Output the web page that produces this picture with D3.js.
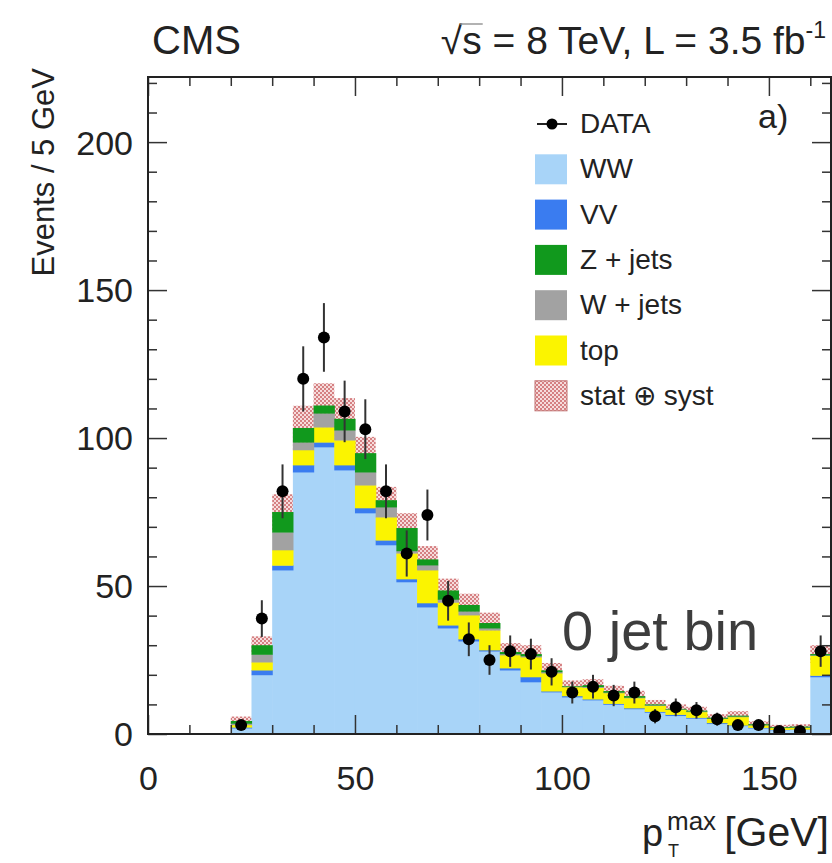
<!DOCTYPE html>
<html>
<head>
<meta charset="utf-8">
<script src="https://cdn.jsdelivr.net/npm/d3@7"></script>
<style>
  body { margin: 0; background: #fff; }
  svg { display: block; }
  text { font-family: "Liberation Sans", Arial, Helvetica, sans-serif; fill: #222; }
</style>
</head>
<body>
<svg id="chart" width="832" height="863"></svg>
<script>
// Lower edge of each 5 GeV bin (last one holds the overflow)
const binStart = [20, 25, 30, 35, 40, 45, 50, 55, 60, 65, 70, 75, 80, 85, 90, 95, 100, 105, 110, 115, 120, 125, 130, 135, 140, 145, 150, 155, 160];
const binWidth = 5;

// Expected events per bin for each background process
const wwVals    = [2.0, 20, 55.4, 88.5, 97, 89.2, 74.7, 63.9, 51.4, 42.9, 35.8, 31.4, 28, 21.6, 17.6, 14.2, 12.5, 11.5, 10, 8.5, 7.3, 6.2, 5.3, 3.5, 2.8, 2.0, 1.4, 1.5, 19.3];
const vvVals    = [0.3, 1.6, 1.6, 2.4, 1.6, 1.7, 1.7, 1.6, 1.0, 1.4, 1.0, 0.7, 0.4, 0.7, 1.7, 0.3, 0.4, 0.3, 0.3, 0.3, 0.3, 0.4, 0.3, 0.3, 0.2, 0.2, 0.1, 0.1, 0.5];
const topVals   = [0.8, 2.7, 5.2, 5.1, 5.1, 8.4, 7.7, 7.8, 8.7, 11.1, 7.7, 8.1, 6.7, 4.4, 6.7, 6.1, 3.0, 3.9, 3.6, 3.4, 2.0, 1.7, 1.9, 1.4, 2.8, 0.8, 0.6, 0.6, 6.7];
const wjetsVals = [0.5, 2.6, 6.0, 2.6, 4.7, 3.4, 4.4, 3.4, 0.8, 1.7, 1.0, 1.3, 0.7, 0.4, 0.4, 0.4, 0.1, 0.3, 0.2, 0.2, 0.2, 0.1, 0.2, 0.1, 0.2, 0.1, 0.1, 0.1, 0.2];
const zjetsVals = [0.8, 3.1, 6.8, 4.8, 2.6, 3.8, 6.4, 2.3, 7.7, 1.9, 3.0, 2.1, 1.7, 0.6, 0.6, 0.5, 0.1, 0.5, 0.4, 0.4, 0.2, 0.1, 0.2, 0.2, 0.2, 0.2, 0.1, 0.2, 0.3];
// Combined statistical and systematic uncertainty on the total expectation
const mcErr     = [1.5, 3, 6, 7.5, 7.5, 7, 5.5, 4.5, 5, 4.5, 4, 3.8, 3.5, 3, 3, 2.5, 2, 2, 1.8, 1.8, 1.5, 1.5, 1.3, 1.2, 1.5, 1, 0.8, 0.8, 3];

// Observed events and their uncertainties
const dataVals  = [3, 39, 82, 120, 134, 109, 103, 82, 61, 74, 45, 32, 25, 28, 27, 21, 14, 16, 13, 14, 6, 9, 8, 5, 3, 3, 1, 1, 28];
const dataErr   = [1.7, 6.2, 9.1, 11, 11.6, 10.4, 10.1, 9.1, 7.8, 8.6, 6.7, 5.7, 5, 5.3, 5.2, 4.6, 3.7, 4, 3.6, 3.7, 2.4, 3, 2.8, 2.2, 1.7, 1.7, 1, 1, 5.3];

// Axis tick values
const xMajorTicks = [0, 50, 100, 150];
const xMinorTicks = [10, 20, 30, 40, 60, 70, 80, 90, 110, 120, 130, 140, 160];
const yMajorTicks = [0, 50, 100, 150, 200];
const yMinorTicks = [10, 20, 30, 40, 60, 70, 80, 90, 110, 120, 130, 140, 160, 170, 180, 190, 210, 220];

// Process names, stacking order (bottom to top) and colours
const processKeys   = ["WW", "VV", "top", "Wjets", "Zjets"];
const processColors = { WW: "#a8d4f8", VV: "#3a7cf0", top: "#fbf400", Wjets: "#a2a2a2", Zjets: "#11991d" };
const legendLabels  = ["DATA", "WW", "VV", "Z + jets", "W + jets", "top", "stat \u2295 syst"];
const legendKinds   = ["data", "WW", "VV", "Zjets", "Wjets", "top", "band"];

const svg = d3.select("#chart");
const x = d3.scaleLinear().domain([0, 165]).range([148, 831]);
const y = d3.scaleLinear().domain([0, 222]).range([734, 77]);

const defs = svg.append("defs");
const pat = defs.append("pattern").attr("id", "hatch")
  .attr("patternUnits", "userSpaceOnUse").attr("width", 4).attr("height", 4);
pat.append("rect").attr("x", 0).attr("y", 0).attr("width", 4).attr("height", 4).attr("fill", "#e49a9a").attr("opacity", 0.35);
pat.append("rect").attr("x", 0).attr("y", 0).attr("width", 2).attr("height", 2).attr("fill", "#c44f52").attr("opacity", 0.65);
pat.append("rect").attr("x", 2).attr("y", 2).attr("width", 2).attr("height", 2).attr("fill", "#c44f52").attr("opacity", 0.65);
defs.append("clipPath").attr("id", "plotClip").append("rect")
  .attr("x", x(0)).attr("y", y(222)).attr("width", x(165) - x(0)).attr("height", y(0) - y(222));

const rows = binStart.map((b, i) => ({
  x0: b, WW: wwVals[i], VV: vvVals[i], top: topVals[i], Wjets: wjetsVals[i], Zjets: zjetsVals[i],
  err: mcErr[i], data: dataVals[i], dErr: dataErr[i]
}));
const stacked = d3.stack().keys(processKeys)(rows);
const totals = rows.map(r => processKeys.reduce((s, k) => s + r[k], 0));

const plot = svg.append("g").attr("clip-path", "url(#plotClip)");

// Uncertainty band around the total expectation (the stack covers its lower half)
plot.append("g").selectAll("rect").data(rows).join("rect")
  .attr("x", d => x(d.x0))
  .attr("width", d => x(d.x0 + binWidth) - x(d.x0))
  .attr("y", (d, i) => y(totals[i] + d.err))
  .attr("height", (d, i) => y(Math.max(0, totals[i] - d.err)) - y(totals[i] + d.err))
  .attr("fill", "url(#hatch)");

// Stacked backgrounds
stacked.forEach(layer => {
  plot.append("g").selectAll("rect").data(layer).join("rect")
    .attr("x", d => x(d.data.x0))
    .attr("width", d => x(d.data.x0 + binWidth) - x(d.data.x0) + 0.6)
    .attr("y", d => y(d[1]))
    .attr("height", d => Math.max(0, y(d[0]) - y(d[1]) + 0.4))
    .attr("fill", processColors[layer.key]);
});

// Data points with error bars
const dg = plot.append("g");
dg.selectAll("line").data(rows).join("line")
  .attr("x1", d => x(d.x0 + binWidth / 2)).attr("x2", d => x(d.x0 + binWidth / 2))
  .attr("y1", d => y(d.data + d.dErr)).attr("y2", d => y(Math.max(0, d.data - d.dErr)))
  .attr("stroke", "#333").attr("stroke-width", 2);
dg.selectAll("circle").data(rows).join("circle")
  .attr("cx", d => x(d.x0 + binWidth / 2)).attr("cy", d => y(d.data))
  .attr("r", 6).attr("fill", "#000");

// Axes: ticks point inwards on all four sides
function styleAxis(g) {
  g.select(".domain").remove();
  g.selectAll(".tick line").attr("stroke", "#333").attr("stroke-width", 1.5);
}
svg.append("g").attr("transform", `translate(0,${y(0)})`)
  .call(d3.axisBottom(x).tickValues(xMajorTicks).tickSize(-19).tickFormat(d3.format("d")))
  .call(styleAxis)
  .call(g => g.selectAll("text").attr("font-size", 34).attr("fill", "#222")
    .attr("font-family", "Liberation Sans, Arial, sans-serif").attr("y", 56).attr("dy", 0));
svg.append("g").attr("transform", `translate(0,${y(0)})`)
  .call(d3.axisBottom(x).tickValues(xMinorTicks).tickSize(-9).tickFormat(""))
  .call(styleAxis);
svg.append("g").attr("transform", `translate(0,${y(222)})`)
  .call(d3.axisTop(x).tickValues(xMajorTicks).tickSize(-19).tickFormat(""))
  .call(styleAxis);
svg.append("g").attr("transform", `translate(0,${y(222)})`)
  .call(d3.axisTop(x).tickValues(xMinorTicks).tickSize(-9).tickFormat(""))
  .call(styleAxis);
svg.append("g").attr("transform", `translate(${x(0)},0)`)
  .call(d3.axisLeft(y).tickValues(yMajorTicks).tickSize(-19).tickFormat(d3.format("d")))
  .call(styleAxis)
  .call(g => g.selectAll("text").attr("font-size", 34).attr("fill", "#222")
    .attr("font-family", "Liberation Sans, Arial, sans-serif").attr("x", -15).attr("dy", "0.35em"));
svg.append("g").attr("transform", `translate(${x(0)},0)`)
  .call(d3.axisLeft(y).tickValues(yMinorTicks).tickSize(-9).tickFormat(""))
  .call(styleAxis);
svg.append("g").attr("transform", `translate(${x(165)},0)`)
  .call(d3.axisRight(y).tickValues(yMajorTicks).tickSize(-19).tickFormat(""))
  .call(styleAxis);
svg.append("g").attr("transform", `translate(${x(165)},0)`)
  .call(d3.axisRight(y).tickValues(yMinorTicks).tickSize(-9).tickFormat(""))
  .call(styleAxis);

// Frame
svg.append("rect").attr("x", x(0)).attr("y", y(222))
  .attr("width", x(165) - x(0)).attr("height", y(0) - y(222))
  .attr("fill", "none").attr("stroke", "#222").attr("stroke-width", 2);

// Axis titles
svg.append("text").attr("transform", "translate(54,68) rotate(-90)")
  .attr("text-anchor", "end").attr("font-size", 31).text("Events / 5 GeV");
svg.append("text").attr("x", 642).attr("y", 846).attr("font-size", 38).text("p");
svg.append("text").attr("x", 667).attr("y", 830).attr("font-size", 26).text("max");
svg.append("text").attr("x", 668).attr("y", 857).attr("font-size", 18).text("T");
svg.append("text").attr("x", 829).attr("y", 846).attr("text-anchor", "end").attr("font-size", 41).text("[GeV]");

// Header
svg.append("text").attr("x", 152).attr("y", 54).attr("font-size", 40).text("CMS");
const lumi = svg.append("text").attr("x", 826).attr("y", 54).attr("text-anchor", "end").attr("font-size", 39);
lumi.append("tspan").text("\u221As = 8 TeV, L = 3.5 fb");
lumi.append("tspan").attr("font-size", 23).attr("dy", -16).text("-1");
const ln = lumi.node();
const sx0 = ln.getStartPositionOfChar(1).x, sx1 = ln.getEndPositionOfChar(1).x;
svg.append("line").attr("x1", sx0 - 2).attr("x2", sx1 + 1).attr("y1", 24).attr("y2", 24)
  .attr("stroke", "#999").attr("stroke-width", 1.5);

// Panel label
svg.append("text").attr("x", 758).attr("y", 128).attr("font-size", 34).text("a)");

// Legend
const lg = svg.append("g");
legendLabels.forEach((lab, i) => {
  const cy = 124 + i * 45.3;
  const kind = legendKinds[i];
  if (kind === "data") {
    lg.append("line").attr("x1", 537).attr("x2", 567).attr("y1", cy).attr("y2", cy).attr("stroke", "#222").attr("stroke-width", 2);
    lg.append("circle").attr("cx", 552).attr("cy", cy).attr("r", 5.5).attr("fill", "#000");
  } else if (kind === "band") {
    lg.append("rect").attr("x", 535).attr("y", cy - 15).attr("width", 32).attr("height", 30)
      .attr("fill", "url(#hatch)").attr("stroke", "#c07070").attr("stroke-width", 1);
  } else {
    lg.append("rect").attr("x", 535).attr("y", cy - 15).attr("width", 32).attr("height", 30)
      .attr("fill", processColors[kind]);
  }
  lg.append("text").attr("x", 580).attr("y", cy + 9).attr("font-size", 28).text(lab);
});

// Annotation
svg.append("text").attr("x", 562).attr("y", 650).attr("font-size", 56)
  .attr("font-family", "Lato, 'Open Sans', sans-serif").style("fill", "#3d3d3d").text("0 jet bin");
</script>
</body>
</html>
